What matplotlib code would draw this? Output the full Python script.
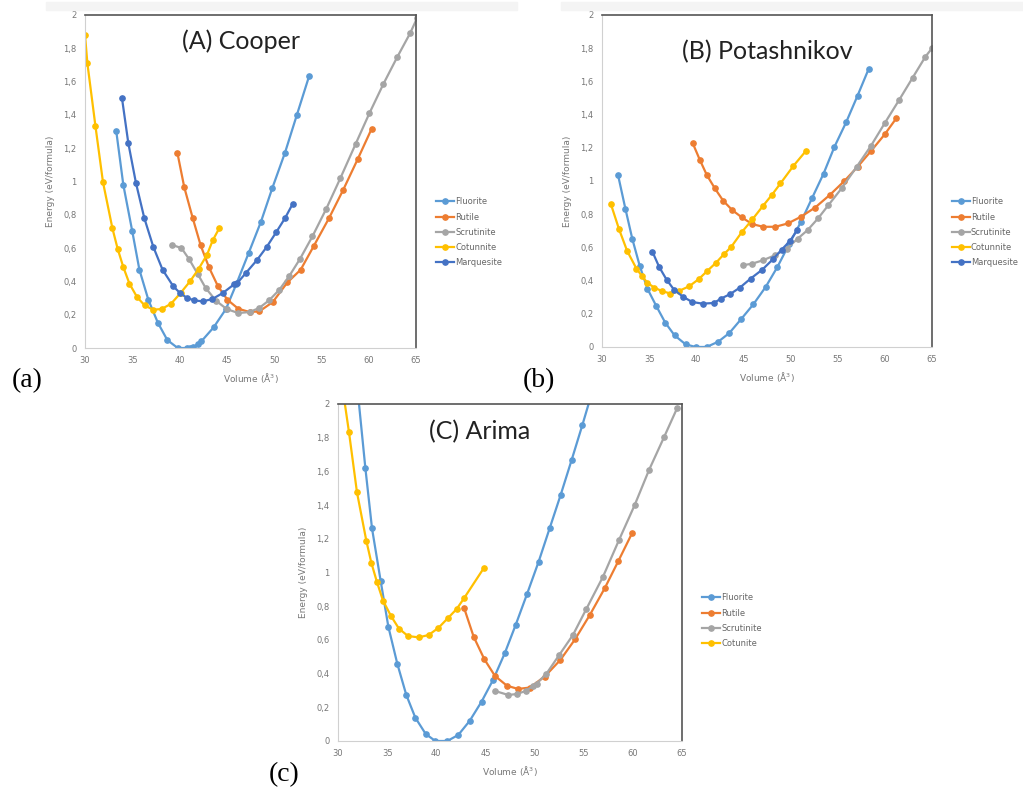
import matplotlib
matplotlib.use("Agg")
import matplotlib.pyplot as plt
from matplotlib.patches import Rectangle
from matplotlib.ticker import FuncFormatter, MultipleLocator

# ---- (A) Cooper ----
a_fluorite_v = [33.3, 34.05, 35.0, 35.75, 36.7, 37.7, 38.7, 39.8, 40.75, 41.1, 41.45, 41.9, 42.3,
                43.6, 44.9, 46.0, 47.3, 48.6, 49.8, 51.15, 52.4, 53.7]
a_fluorite_e = [1.304, 0.98, 0.70, 0.47, 0.289, 0.152, 0.048, 0.0, 0.0, 0.0, 0.006, 0.022, 0.04,
                0.124, 0.234, 0.384, 0.57, 0.758, 0.96, 1.174, 1.40, 1.634]
a_rutile_v = [39.76, 40.5, 41.39, 42.23, 43.11, 44.03, 45.05, 46.2, 47.4, 48.43, 49.85, 51.4,
              52.8, 54.2, 55.8, 57.3, 58.83, 60.3]
a_rutile_e = [1.174, 0.964, 0.78, 0.616, 0.484, 0.374, 0.29, 0.236, 0.216, 0.22, 0.276, 0.394,
              0.47, 0.614, 0.78, 0.95, 1.134, 1.316]
a_scrut_v = [39.16, 40.2, 41.0, 41.9, 42.76, 43.85, 44.98, 46.2, 47.4, 48.4, 49.46, 50.55, 51.57,
             52.74, 54.04, 55.49, 57.0, 58.6, 60.07, 61.55, 63.0, 64.37, 65.1]
a_scrut_e = [0.62, 0.60, 0.534, 0.446, 0.36, 0.284, 0.234, 0.21, 0.216, 0.24, 0.286, 0.35, 0.43,
             0.536, 0.67, 0.834, 1.02, 1.224, 1.41, 1.586, 1.746, 1.89, 1.98]
a_cotun_v = [30.0, 30.25, 31.1, 31.9, 32.9, 33.45, 34.05, 34.7, 35.5, 36.3, 37.2, 38.1, 39.1, 40.1,
             41.1, 42.0, 42.9, 43.5, 44.2]
a_cotun_e = [1.88, 1.71, 1.334, 0.996, 0.718, 0.596, 0.486, 0.386, 0.306, 0.256, 0.23, 0.234,
             0.266, 0.33, 0.40, 0.474, 0.56, 0.646, 0.72]
a_marq_v = [33.91, 34.58, 35.39, 36.27, 37.23, 38.2, 39.34, 40.05, 40.8, 41.56, 42.44, 43.46,
            44.56, 45.8, 46.1, 47.0, 48.15, 49.2, 50.2, 51.15, 51.96]
a_marq_e = [1.50, 1.23, 0.99, 0.78, 0.606, 0.47, 0.37, 0.33, 0.30, 0.286, 0.28, 0.294, 0.33,
            0.384, 0.39, 0.45, 0.526, 0.606, 0.694, 0.78, 0.866]

# ---- (B) Potashnikov ----
b_fluorite_v = [31.7, 32.48, 33.22, 34.0, 34.82, 35.77, 36.7, 37.69, 38.86, 39.92, 41.09, 42.33,
                43.5, 44.74, 46.05, 47.36, 48.6, 49.85, 51.1, 52.3, 53.5, 54.65, 55.9, 57.1, 58.27]
b_fluorite_e = [1.035, 0.832, 0.649, 0.488, 0.35, 0.245, 0.147, 0.07, 0.016, 0.0, 0.0, 0.032,
                0.084, 0.167, 0.257, 0.362, 0.482, 0.62, 0.754, 0.90, 1.045, 1.206, 1.355, 1.514, 1.674]
b_rutile_v = [39.63, 40.38, 41.12, 41.97, 42.86, 43.82, 44.84, 45.94, 47.1, 48.38, 49.7, 51.08,
              52.6, 54.2, 55.7, 57.1, 58.55, 59.97, 61.2]
b_rutile_e = [1.226, 1.126, 1.035, 0.955, 0.88, 0.824, 0.78, 0.74, 0.724, 0.724, 0.744, 0.784,
              0.84, 0.918, 1.0, 1.085, 1.182, 1.28, 1.377]
b_scrut_v = [44.9, 45.94, 47.1, 48.35, 49.6, 50.76, 51.8, 52.9, 54.0, 55.4, 57.0, 58.5, 59.97,
             61.5, 62.94, 64.3, 65.0]
b_scrut_e = [0.492, 0.502, 0.523, 0.553, 0.593, 0.653, 0.704, 0.774, 0.854, 0.955, 1.085, 1.21,
             1.347, 1.487, 1.622, 1.749, 1.80]
b_cotun_v = [30.92, 31.8, 32.66, 33.65, 34.25, 34.82, 35.53, 36.38, 37.26, 38.18, 39.25, 40.24,
             41.16, 42.08, 42.93, 43.7, 44.84, 45.94, 47.07, 48.0, 48.92, 50.3, 51.64]
b_cotun_e = [0.864, 0.71, 0.579, 0.472, 0.426, 0.386, 0.358, 0.336, 0.322, 0.338, 0.366, 0.408,
             0.458, 0.507, 0.559, 0.603, 0.693, 0.768, 0.85, 0.915, 0.985, 1.091, 1.182]
b_marq_v = [35.35, 36.06, 36.84, 37.62, 38.6, 39.56, 40.66, 41.87, 42.6, 43.57, 44.63, 45.76,
            47.0, 48.1, 49.06, 49.94, 50.7]
b_marq_e = [0.573, 0.482, 0.406, 0.346, 0.302, 0.271, 0.261, 0.265, 0.291, 0.318, 0.358, 0.412,
            0.466, 0.527, 0.587, 0.639, 0.704]

# ---- (C) Arima ----
c_fluorite_v = [32.0, 32.78, 33.46, 34.34, 35.12, 36.04, 36.95, 37.87, 38.92, 39.9, 41.12, 42.24,
                43.39, 44.6, 45.77, 46.96, 48.07, 49.23, 50.41, 51.53, 52.65, 53.77, 54.86, 56.0]
c_fluorite_e = [2.08, 1.622, 1.262, 0.95, 0.679, 0.457, 0.273, 0.138, 0.042, 0.0, 0.0, 0.036,
                0.119, 0.233, 0.362, 0.52, 0.688, 0.872, 1.064, 1.262, 1.46, 1.668, 1.875, 2.10]
c_rutile_v = [42.82, 43.8, 44.89, 45.97, 47.19, 48.31, 49.5, 51.02, 52.62, 54.11, 55.6, 57.13,
              58.52, 59.94]
c_rutile_e = [0.791, 0.619, 0.485, 0.386, 0.328, 0.309, 0.317, 0.382, 0.481, 0.603, 0.746, 0.906,
              1.068, 1.236]
c_scrut_v = [45.97, 47.33, 48.21, 49.09, 49.84, 50.2, 51.19, 52.5, 53.9, 55.26, 56.96, 58.59,
             60.18, 61.64, 63.16, 64.49]
c_scrut_e = [0.297, 0.273, 0.279, 0.297, 0.326, 0.34, 0.398, 0.51, 0.629, 0.783, 0.975, 1.193,
             1.40, 1.608, 1.802, 1.974]
c_cotun_v = [30.5, 31.12, 31.93, 32.88, 33.39, 33.97, 34.58, 35.39, 36.2, 37.12, 38.2, 39.22,
             40.21, 41.16, 42.07, 42.82, 44.82]
c_cotun_e = [2.08, 1.832, 1.476, 1.189, 1.058, 0.942, 0.833, 0.742, 0.667, 0.623, 0.615, 0.629,
             0.671, 0.728, 0.783, 0.847, 1.025]

colors = {"Fluorite": "#5B9BD5", "Rutile": "#ED7D31", "Scrutinite": "#A5A5A5",
          "Cotunnite": "#FFC000", "Cotunite": "#FFC000", "Marquesite": "#4472C4"}

panels = [
    ([0.0831, 0.5606, 0.3236, 0.4205], "(A) Cooper", (0.47, 0.92),
     [("Fluorite", a_fluorite_v, a_fluorite_e), ("Rutile", a_rutile_v, a_rutile_e),
      ("Scrutinite", a_scrut_v, a_scrut_e), ("Cotunnite", a_cotun_v, a_cotun_e),
      ("Marquesite", a_marq_v, a_marq_e)], (0.423, 0.755)),
    ([0.5885, 0.5619, 0.3226, 0.4192], "(B) Potashnikov", (0.50, 0.89),
     [("Fluorite", b_fluorite_v, b_fluorite_e), ("Rutile", b_rutile_v, b_rutile_e),
      ("Scrutinite", b_scrut_v, b_scrut_e), ("Cotunnite", b_cotun_v, b_cotun_e),
      ("Marquesite", b_marq_v, b_marq_e)], (0.927, 0.755)),
    ([0.3304, 0.0644, 0.3363, 0.4255], "(C) Arima", (0.413, 0.918),
     [("Fluorite", c_fluorite_v, c_fluorite_e), ("Rutile", c_rutile_v, c_rutile_e),
      ("Scrutinite", c_scrut_v, c_scrut_e), ("Cotunite", c_cotun_v, c_cotun_e)], (0.683, 0.255)),
]

comma = FuncFormatter(lambda v, p: f"{v:g}".replace(".", ","))

fig = plt.figure(figsize=(10.23, 7.92), dpi=100)

# faint grey strip at the top of the two upper screenshots
fig.patches.append(Rectangle((0.045, 0.987), 0.46, 0.01, transform=fig.transFigure,
                             color="#f4f4f4", zorder=0))
fig.patches.append(Rectangle((0.548, 0.987), 0.452, 0.01, transform=fig.transFigure,
                             color="#f4f4f4", zorder=0))

for rect, title, tpos, series, legpos in panels:
    ax = fig.add_axes(rect)
    handles = []
    for name, v, e in series:
        h, = ax.plot(v, e, "-o", color=colors[name], lw=1.6, ms=3.8, label=name)
        handles.append(h)
    ax.set_xlim(30, 65)
    ax.set_ylim(0, 2)
    ax.xaxis.set_major_locator(MultipleLocator(5))
    ax.yaxis.set_major_locator(MultipleLocator(0.2))
    ax.yaxis.set_major_formatter(comma)
    ax.tick_params(length=0, labelsize=6, colors="#777777", pad=6)
    for s in ["left", "bottom"]:
        ax.spines[s].set_color("#d0d0d0")
    for s in ["top", "right"]:
        ax.spines[s].set_color("#555555")
        ax.spines[s].set_linewidth(1.2)
    ax.set_xlabel("Volume (Å$^3$)", fontsize=6.5, color="#777777", labelpad=4)
    ax.set_ylabel("Energy (eV/formula)", fontsize=6.5, color="#777777", labelpad=6)
    ax.text(tpos[0], tpos[1], title, transform=ax.transAxes, ha="center", va="center",
            fontsize=18, family="Lato", color="#222222")
    fig.legend(handles=handles, loc="upper left", bbox_to_anchor=legpos, frameon=False,
               fontsize=6, labelcolor="#666666", handlelength=2.2, handletextpad=0.1,
               labelspacing=0.75, borderaxespad=0)

fig.text(0.027, 0.52, "(a)", fontsize=20, family="Liberation Serif", ha="center", va="center")
fig.text(0.527, 0.52, "(b)", fontsize=20, family="Liberation Serif", ha="center", va="center")
fig.text(0.278, 0.022, "(c)", fontsize=20, family="Liberation Serif", ha="center", va="center")

fig.savefig("out.png", dpi=100)
